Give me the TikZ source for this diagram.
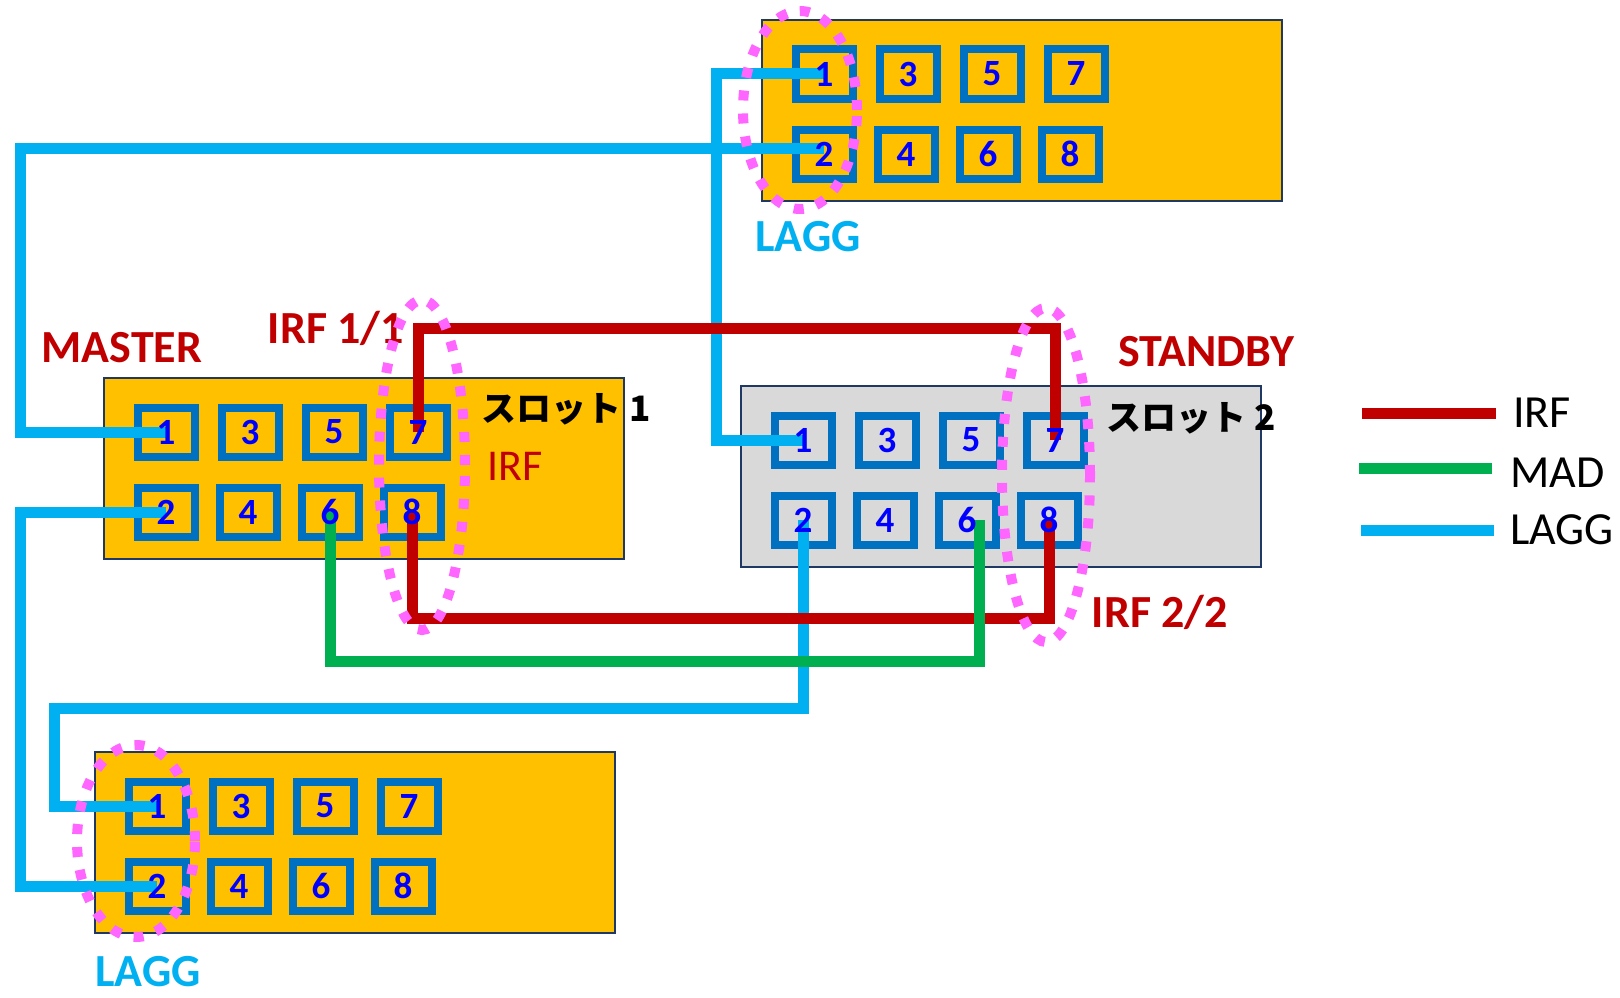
\documentclass[tikz,border=0pt]{standalone}
\usepackage{fontspec}
\setmainfont{Carlito}
\newfontfamily\jpfont{Noto Sans CJK JP}
\usetikzlibrary{calc}
\definecolor{slotY}{RGB}{255,192,0}
\definecolor{slotG}{RGB}{217,217,217}
\definecolor{slotE}{RGB}{32,56,100}
\definecolor{portB}{RGB}{0,112,192}
\definecolor{numB}{RGB}{0,0,255}
\definecolor{irfR}{RGB}{192,0,0}
\definecolor{madG}{RGB}{0,176,80}
\definecolor{lagB}{RGB}{0,176,240}
\definecolor{ringP}{RGB}{255,102,255}
\tikzset{
  slot/.style={draw=slotE, line width=2pt, fill=slotY, minimum width=520pt, minimum height=181pt, inner sep=0pt, anchor=north west},
  port/.style={draw=portB, line width=8pt, minimum width=57pt, minimum height=49pt, inner sep=0pt},
  num/.style={text=numB, font=\fontsize{37}{37}\selectfont\bfseries, inner sep=0pt},
  irf/.style={irfR, line width=11pt},
  mad/.style={madG, line width=11pt},
  lagg/.style={lagB, line width=11pt},
  ring/.style={ringP, line width=10pt, dash pattern=on 10pt off 13pt},
  tag/.style={font=\fontsize{46}{46}\selectfont\bfseries, inner sep=0pt},
  slotname/.style={font=\jpfont\bfseries\fontsize{35}{35}\selectfont, inner sep=0pt},
  legtext/.style={font=\fontsize{46}{46}\selectfont, inner sep=0pt, anchor=west}
}
% eight port frames of one slot: prefix, left, top
\newcommand{\slotports}[3]{%
  \foreach \i [evaluate=\i as \oddn using int(2*\i+1), evaluate=\i as \evenn using int(2*\i+2)] in {0,...,3} {
    \node[port] (#1\oddn) at (#2+64+84*\i, #3+56) {};
    \node[port] (#1\evenn) at (#2+64+82*\i, #3+136) {};
  }%
}

\begin{document}
\begin{tikzpicture}[x=1pt, y=-1pt]
\useasboundingbox (0,0) rectangle (1620,998);
% slots
\node[slot] (slottop) at (761,19) {};
\node[slot] (slotmaster) at (103,377) {};
\node[slot, fill=slotG] (slotstandby) at (740,385) {};
\node[slot] (slotbottom) at (94,751) {};
\slotports{t}{760}{18}
\slotports{m}{102}{376}
\slotports{s}{739}{384}
\slotports{b}{93}{750}
% LAGG links
\draw[lagg] (t1.center) -- ++(-108,0) |- (s1.center);
\draw[lagg] ([yshift=6pt]t2.center) -| ([xshift=-146pt]m1.center) -- (m1.center);
\draw[lagg] (m2.center) -| ([xshift=-137pt]b2.center) -- (b2.center);
\draw[lagg] (s2.center) -- ++(0,188) -| ([xshift=-103pt]b1.center) -- (b1.center);
% IRF links
\draw[irf] (m7.center) -- ++(0,-104) -| (s7.center);
\draw[irf] (m8.center) -- ++(0,106) -| (s8.center);
% MAD link
\draw[mad] (m6.center) -- ++(0,149) -| ([xshift=12pt]s6.center);
% port numbers
\foreach \p in {t,m,s,b} \foreach \n in {1,...,8} \node[num] at (\p\n) {\n};
% labels
\node[tag, irfR] (lblmaster) at (122,348) {MASTER};
\node[tag, irfR] (lblirfa) at (336,328) {IRF 1/1};
\node[slotname] (lblslota) at (566,409) {スロット 1};
\node[font=\fontsize{44}{44}\selectfont, irfR, inner sep=0pt] (lblirf) at (515,466) {IRF};
\node[tag, irfR] (lblstandby) at (1206,352) {STANDBY};
\node[slotname] (lblslotb) at (1191,418) {スロット 2};
\node[tag, irfR] (lblirfb) at (1160,612) {IRF 2/2};
\node[tag, lagB] (lbllagga) at (808,237) {LAGG};
\node[tag, lagB] (lbllaggb) at (148,972) {LAGG};
% dotted rings round the grouped ports
\draw[ring] (800,110) ellipse [x radius=57pt, y radius=99pt];
\draw[ring] (422,465) ellipse [x radius=43pt, y radius=165pt];
\draw[ring] (1046,475) ellipse [x radius=44pt, y radius=167pt];
\draw[ring] (136,841) ellipse [x radius=59pt, y radius=96pt];
% legend
\node[legtext] (legirf) at (1513,413) {IRF};
\node[legtext] (legmad) at (1510,473) {MAD};
\node[legtext] (leglagg) at (1510,530) {LAGG};
\draw[irf] ([xshift=-151pt]legirf.west) -- ([xshift=-17pt]legirf.west);
\draw[mad] ([shift={(-151pt,5pt)}]legmad.west) -- ([shift={(-18pt,5pt)}]legmad.west);
\draw[lagg] ([xshift=-149pt]leglagg.west) -- ([xshift=-16pt]leglagg.west);
\end{tikzpicture}
\end{document}
